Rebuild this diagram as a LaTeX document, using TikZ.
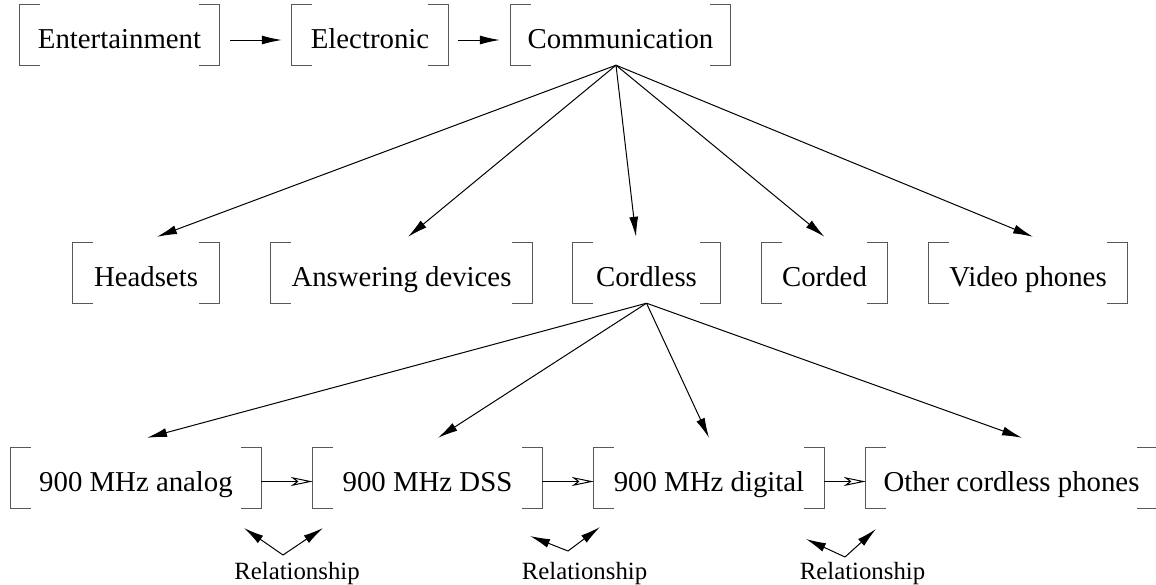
\documentclass[tikz,border=0pt]{standalone}
\usepackage{fontspec}
\setmainfont{Liberation Serif}
\usetikzlibrary{arrows.meta}

\tikzset{
  item/.style={inner sep=0pt, minimum height=60pt, text height=33pt, text depth=6pt,
    font=\fontsize{28.8pt}{34pt}\selectfont},
  brk/.style={line width=1.3pt, draw=black!65},
  arr/.style={line width=1pt, -{Latex[length=20pt,width=9pt]}},
  rel/.style={line width=1pt, -{Stealth[open,length=22pt,width=9pt,inset=6pt]}},
  note/.style={anchor=base, inner sep=0pt, font=\fontsize{24.8pt}{28pt}\selectfont},
}

\begin{document}
\begin{tikzpicture}[x=1pt,y=-1pt]
  \useasboundingbox (0,0) rectangle (1156,584);
  \clip (0,0) rectangle (1156,584);
  % top row
  \node[item, minimum width=199pt] (ent)  at (119.5,35) {Entertainment};
  \node[item, minimum width=156pt] (elec) at (370,35)   {Electronic};
  \node[item, minimum width=219pt] (comm) at (620.5,35) {Communication};
  % kinds of communication
  \node[item, minimum width=146pt] (head) at (146,273)   {Headsets};
  \node[item, minimum width=261pt] (ans)  at (401.5,273) {Answering devices};
  \node[item, minimum width=147pt] (cdl)  at (646.5,273) {Cordless};
  \node[item, minimum width=125pt] (cdd)  at (824.5,273) {Corded};
  \node[item, minimum width=198pt] (vid)  at (1028,273)  {Video phones};
  % kinds of cordless phones
  \node[item, minimum width=250pt] (ana) at (136,478)    {900 MHz analog};
  \node[item, minimum width=229pt] (dss) at (427.5,478)  {900 MHz DSS};
  \node[item, minimum width=230pt] (dig) at (709,478)    {900 MHz digital};
  \node[item, minimum width=291pt] (oth) at (1011.5,478) {Other cordless phones};
  % brackets round every item
  \foreach \n in {ent,elec,comm,head,ans,cdl,cdd,vid,ana,dss,dig,oth} {
    \draw[brk] ([xshift=20pt]\n.north west) -| (\n.south west) -- ++(20,0);
    \draw[brk] ([xshift=-20pt]\n.north east) -| (\n.south east) -- ++(-20,0);
  }
  % chain on top
  \draw[arr] ([xshift=11pt,yshift=-5pt]ent.east) -- ([xshift=-10pt,yshift=-5pt]elec.west);
  \draw[arr] ([xshift=10pt,yshift=-5pt]elec.east) -- ([xshift=-11pt,yshift=-5pt]comm.west);
  % fans
  \coordinate (ca) at ([xshift=-4.5pt]comm.south);
  \foreach \t/\s in {head/11,ans/6.5,cdl/-10.5,cdd/0,vid/5}
    \draw[arr] (ca) -- ([xshift=\s pt,yshift=6pt]\t.north);
  \foreach \t/\s in {ana/11,dss/10.5,dig/0,oth/10.5}
    \draw[arr] (cdl.south) -- ([xshift=\s pt,yshift=10pt]\t.north);
  % relationships
  \draw[rel] ([yshift=-3.5pt]ana.east) -- ([yshift=-3.5pt]dss.west);
  \draw[rel] ([yshift=-3.5pt]dss.east) -- ([yshift=-3.5pt]dig.west);
  \draw[rel] ([yshift=-3.5pt]dig.east) -- ([yshift=-3.5pt]oth.west);
  \node[note] (r1) at (297,579)   {Relationship};
  \node[note] (r2) at (584.5,579) {Relationship};
  \node[note] (r3) at (862.5,579) {Relationship};
  \coordinate (v1) at (283,555); \coordinate (v1a) at (244,528); \coordinate (v1b) at (323,528);
  \coordinate (v2) at (568,551); \coordinate (v2a) at (530,536); \coordinate (v2b) at (600,527);
  \coordinate (v3) at (845,557); \coordinate (v3a) at (806,539); \coordinate (v3b) at (876,529);
  \foreach \v in {v1,v2,v3} {
    \draw[arr] (\v) -- (\v a);
    \draw[arr] (\v) -- (\v b);
  }
\end{tikzpicture}
\end{document}
